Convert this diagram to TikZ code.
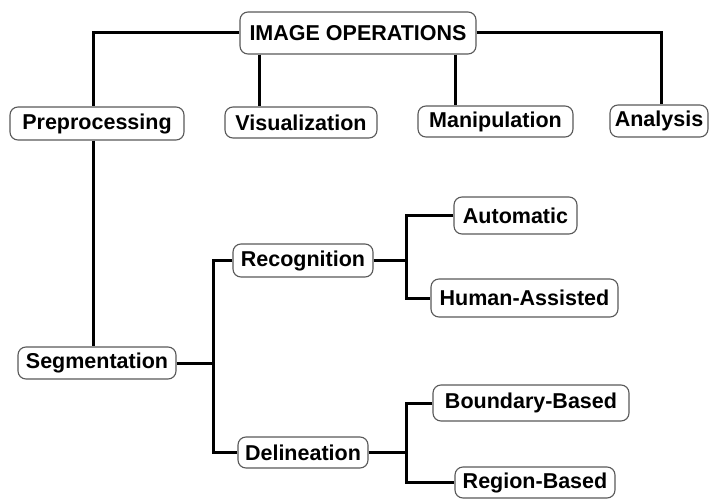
\documentclass[tikz,border=0pt]{standalone}
\usepackage{fontspec}
\setmainfont{Liberation Sans}
\begin{document}
\begin{tikzpicture}[x=1pt,y=-1pt,
  box/.style={draw=black!65, line width=1.1pt, rounded corners=8pt, fill=white,
    inner sep=0pt, font=\fontsize{21.5}{24}\selectfont\bfseries},
  conn/.style={line width=3pt, black}]
\useasboundingbox (0,0) rectangle (709,500);
% nodes
\node[box, minimum width=236, minimum height=42] (img) at (358,33) {IMAGE OPERATIONS};
\node[box, minimum width=174, minimum height=33] (pre) at (97,123.5) {Preprocessing};
\node[box, minimum width=152, minimum height=31] (vis) at (301,122.5) {Visualization};
\node[box, minimum width=155, minimum height=31] (man) at (495.5,121.5) {Manipulation};
\node[box, minimum width=98, minimum height=32] (ana) at (659,121) {Analysis};
\node[box, minimum width=158, minimum height=32] (seg) at (97,363) {Segmentation};
\node[box, minimum width=140, minimum height=33] (rec) at (303,260.5) {Recognition};
\node[box, minimum width=130, minimum height=31] (del) at (303,452.5) {Delineation};
\node[box, minimum width=123, minimum height=37] (aut) at (515.5,215.5) {Automatic};
\node[box, minimum width=187, minimum height=38] (hum) at (524.5,298) {Human-Assisted};
\node[box, minimum width=196, minimum height=36] (bou) at (531,403) {Boundary-Based};
\node[box, minimum width=160, minimum height=31] (reg) at (535,482.5) {Region-Based};
% junction x positions
\coordinate (vx) at (259,0);
\coordinate (mx) at (455,0);
\coordinate (px) at (93,0);
\coordinate (sx) at (213,0);
\coordinate (rx) at (406,0);
% connectors
\draw[conn] (img.west) -| (pre.north -| px);
\draw[conn] (img.south -| vx) -- (vis.north -| vx);
\draw[conn] (img.south -| mx) -- (man.north -| mx);
\draw[conn] (img.east) -| ([xshift=2pt]ana.north);
\draw[conn] (pre.south -| px) -- (seg.north -| px);
\draw[conn] (seg.east) -- (seg.east -| sx);
\draw[conn] (rec.west) -| (del.west -| sx) -- (del.west);
\draw[conn] (rec.east) -- (rec.east -| rx);
\draw[conn] (aut.west) -| (hum.west -| rx) -- (hum.west);
\draw[conn] (del.east) -- (del.east -| rx);
\draw[conn] (bou.west) -| (reg.west -| rx) -- (reg.west);
\end{tikzpicture}
\end{document}
